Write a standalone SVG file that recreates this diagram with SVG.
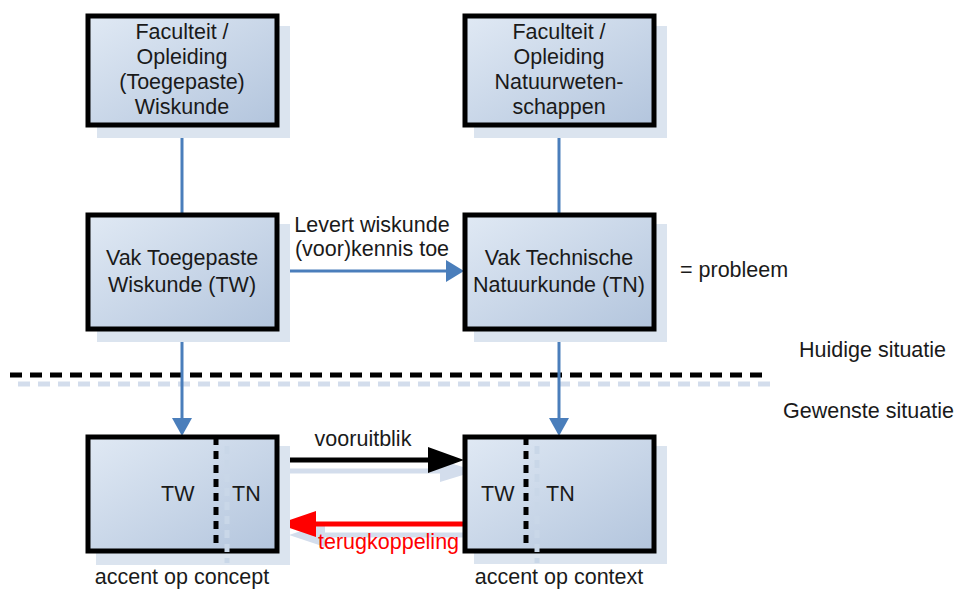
<svg xmlns="http://www.w3.org/2000/svg" width="957" height="589" viewBox="0 0 957 589">
  <defs>
    <linearGradient id="boxFill" x1="0" y1="0" x2="1" y2="1">
      <stop offset="0" stop-color="#e0e9f4"/>
      <stop offset="1" stop-color="#b3c5dd"/>
    </linearGradient>
    <style>
      .shadow { fill: #dbe4ef; }
      .box { fill: url(#boxFill); stroke: #000; stroke-width: 5; }
      .t { font-family: "Liberation Sans", Arial, sans-serif; font-size: 21.5px; fill: #1a1a1a; }
      .c { text-anchor: middle; }
      .link { stroke: #4a7ebb; stroke-width: 3; fill: none; }
      .divider { stroke: #000; stroke-width: 5; stroke-dasharray: 8 6; }
      .dividerShadow { stroke: #c9d7e8; stroke-width: 5; stroke-dasharray: 8 6; }
    </style>
  </defs>

  <!-- separator between current and desired situation -->
  <g id="separator">
    <line x1="18" y1="384" x2="775" y2="384" stroke="#d3ddec" stroke-width="5" stroke-dasharray="12 8"/>
    <line x1="10" y1="375" x2="765" y2="375" stroke="#000" stroke-width="5" stroke-dasharray="12 8"/>
  </g>

  <!-- connectors -->
  <g id="connectors">
    <line class="link" x1="182" y1="126" x2="182" y2="213"/>
    <line class="link" x1="559" y1="126" x2="559" y2="213"/>
    <line class="link" x1="182" y1="330" x2="182" y2="420"/>
    <path d="M172,418 L192,418 L182,436 z" fill="#4a7ebb"/>
    <line class="link" x1="559" y1="330" x2="559" y2="420"/>
    <path d="M549,418 L569,418 L559,436 z" fill="#4a7ebb"/>
    <line class="link" x1="279" y1="271" x2="448" y2="271"/>
    <path d="M446,260 L464,271 L446,282 z" fill="#4a7ebb"/>

    <!-- vooruitblik (shadow then arrow) -->
    <line x1="290" y1="471" x2="450" y2="471" stroke="#d3ddec" stroke-width="5"/>
    <path d="M440,460 L476,471 L440,482 z" fill="#d3ddec"/>
    <line x1="278" y1="460" x2="432" y2="460" stroke="#000" stroke-width="5"/>
    <path d="M428,447 L464,460 L428,473 z" fill="#000"/>

    <!-- terugkoppeling (shadow then arrow) -->
    <line x1="320" y1="535" x2="475" y2="535" stroke="#d3ddec" stroke-width="5"/>
    <path d="M325,523 L289,535 L325,547 z" fill="#d3ddec"/>
    <line x1="312" y1="524" x2="464" y2="524" stroke="#f00" stroke-width="5"/>
    <path d="M316,511 L278,524 L316,537 z" fill="#f00"/>
  </g>

  <g id="faculteit-wiskunde">
    <rect class="shadow" x="97" y="26" width="193" height="112"/>
    <rect class="box" x="88" y="16" width="189" height="109"/>
    <text class="t c" x="182" y="39">Faculteit /</text>
    <text class="t c" x="182" y="64">Opleiding</text>
    <text class="t c" x="182" y="89">(Toegepaste)</text>
    <text class="t c" x="182" y="114">Wiskunde</text>
  </g>

  <g id="faculteit-natuur">
    <rect class="shadow" x="474" y="26" width="193" height="112"/>
    <rect class="box" x="465" y="16" width="189" height="109"/>
    <text class="t c" x="559" y="39">Faculteit /</text>
    <text class="t c" x="559" y="64">Opleiding</text>
    <text class="t c" x="559" y="89">Natuurweten-</text>
    <text class="t c" x="559" y="114">schappen</text>
  </g>

  <g id="vak-tw">
    <rect class="shadow" x="97" y="224" width="193" height="118"/>
    <rect class="box" x="88" y="215" width="189" height="114"/>
    <text class="t c" x="182" y="265">Vak Toegepaste</text>
    <text class="t c" x="182" y="292">Wiskunde (TW)</text>
  </g>

  <g id="vak-tn">
    <rect class="shadow" x="474" y="224" width="193" height="118"/>
    <rect class="box" x="465" y="215" width="189" height="114"/>
    <text class="t c" x="559" y="265">Vak Technische</text>
    <text class="t c" x="559" y="292">Natuurkunde (TN)</text>
  </g>

  <g id="concept">
    <rect class="shadow" x="96" y="446" width="194" height="119"/>
    <rect class="box" x="88" y="437" width="189" height="114"/>
    <line class="dividerShadow" x1="227" y1="446" x2="227" y2="563"/>
    <line class="divider" x1="216" y1="437" x2="216" y2="551"/>
    <text class="t" x="161" y="501">TW</text>
    <text class="t" x="232" y="501">TN</text>
  </g>

  <g id="context">
    <rect class="shadow" x="474" y="446" width="193" height="118"/>
    <rect class="box" x="465" y="437" width="189" height="114"/>
    <line class="dividerShadow" x1="537" y1="446" x2="537" y2="563"/>
    <line class="divider" x1="526" y1="437" x2="526" y2="551"/>
    <text class="t" x="481" y="501">TW</text>
    <text class="t" x="546" y="501">TN</text>
  </g>

  <g id="labels">
    <text class="t c" x="372" y="232">Levert wiskunde</text>
    <text class="t c" x="372" y="256">(voor)kennis toe</text>
    <text class="t c" x="363" y="446">vooruitblik</text>
    <text class="t" x="318" y="549" style="fill:#f00">terugkoppeling</text>
    <text class="t" x="680" y="277">= probleem</text>
    <text class="t" x="799" y="357">Huidige situatie</text>
    <text class="t" x="783" y="418">Gewenste situatie</text>
    <text class="t c" x="182" y="584">accent op concept</text>
    <text class="t c" x="559" y="584">accent op context</text>
  </g>
</svg>
